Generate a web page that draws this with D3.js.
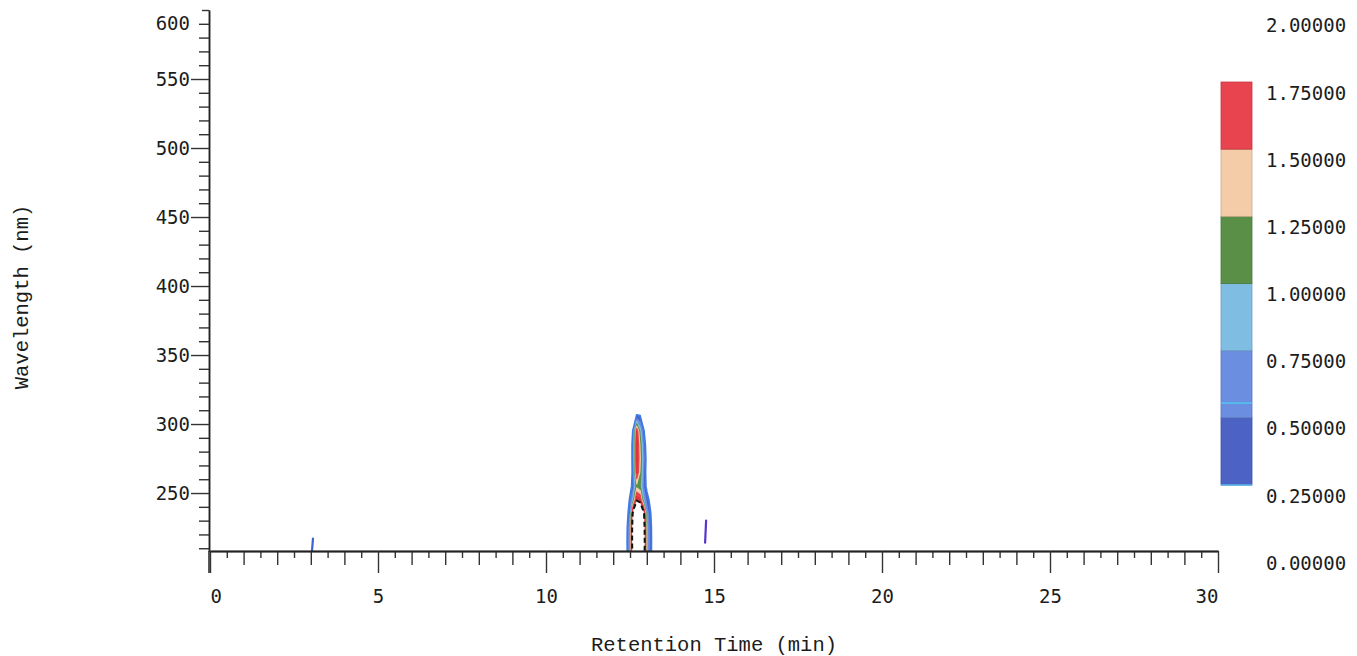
<!DOCTYPE html>
<html>
<head>
<meta charset="utf-8">
<script src="https://cdn.jsdelivr.net/npm/d3@7"></script>
<style>
	body { margin: 0; background: #fff; }
	svg { display: block; }
</style>
</head>
<body>
<div id="chartDiv"></div>
<script>
; (function () {

	var width = 1357;
	var height = 656;
	var plot = { left: 210, right: 1218, top: 10, bottom: 551 };

	var xDomain = [0, 30];
	var yDomain = [208, 600];
	var xMajorTicks = [0, 5, 10, 15, 20, 25, 30];
	var yMajorTicks = [250, 300, 350, 400, 450, 500, 550, 600];
	var xAxisLabelHeader = "Retention Time (min)";
	var yAxisLabelHeader = "Wavelength (nm)";

	// main peak, absorbance sampled on a small grid (rows = wavelength, bottom first)
	var peakTimes = [12.3, 12.4, 12.5, 12.6, 12.7, 12.8, 12.9, 13.0, 13.1, 13.2, 13.3];
	var peakWavelengths = [205, 215, 225, 235, 245, 255, 265, 275, 285, 295, 305, 315];
	var peakAbsorbance = [
		[0, 0.12, 0.70, 2.60, 3.20, 3.20, 2.60, 0.80, 0.38, 0, 0],
		[0, 0.15, 0.75, 2.70, 3.30, 3.30, 2.70, 0.85, 0.40, 0, 0],
		[0, 0.12, 0.72, 2.70, 3.30, 3.30, 2.60, 0.80, 0.38, 0, 0],
		[0, 0.05, 0.50, 2.40, 3.00, 2.90, 2.30, 0.70, 0.30, 0, 0],
		[0, 0, 0.30, 0.90, 1.95, 1.80, 0.80, 0.40, 0.15, 0, 0],
		[0, 0, 0.10, 0.40, 1.15, 1.00, 0.50, 0.15, 0, 0, 0],
		[0, 0, 0.05, 0.35, 1.80, 1.20, 0.50, 0.10, 0, 0, 0],
		[0, 0, 0, 0.40, 1.90, 1.30, 0.60, 0.10, 0, 0, 0],
		[0, 0, 0, 0.40, 1.90, 1.20, 0.50, 0.05, 0, 0, 0],
		[0, 0, 0, 0.30, 1.76, 0.90, 0.30, 0, 0, 0, 0],
		[0, 0, 0, 0, 0.30, 0.28, 0, 0, 0, 0, 0],
		[0, 0, 0, 0, 0, 0, 0, 0, 0, 0, 0]
	];

	// small features
	var minorTimes = [3.05, 14.75];
	var minorLow = [208, 214];
	var minorHigh = [217, 230];
	var minorColors = ["#3d62d6", "#5636cf"];

	var levels = [0.25, 0.5, 0.75, 1.0, 1.25, 1.5, 1.75, 2.0];
	var levelColors = ["#4b62c6", "#6a8de0", "#7fbde3", "#57904a", "#f4cca8", "#e8444f", "#e0343a", "#ffffff"];
	var barLevels = [0.25, 0.5, 0.75, 1.0, 1.25, 1.5];
	var barColors = ["#4c63c5", "#6b8ee0", "#80bde2", "#5a8f48", "#f5cca8", "#e8444f"];
	var barLabels = [0, 0.25, 0.5, 0.75, 1.0, 1.25, 1.5, 1.75, 2.0];
	var barStripes = [0.555];

	var chart, xScale, yScale;

	init();

	function init() {
		chart = d3.select("#chartDiv").append("svg")
			.attr("width", width)
			.attr("height", height);

		xScale = d3.scaleLinear().domain(xDomain).range([plot.left, plot.right]);
		yScale = d3.scaleLinear().domain(yDomain).range([plot.bottom, plot.top]);

		chart.append("clipPath").attr("id", "plotClip")
			.append("rect")
			.attr("x", plot.left).attr("y", plot.top)
			.attr("width", plot.right - plot.left).attr("height", plot.bottom - plot.top);

		drawContours();
		drawMinor();
		createAxes();
		drawColorBar();
	}

	function drawContours() {
		var nx = peakTimes.length, ny = peakWavelengths.length;
		var flat = [];
		peakAbsorbance.forEach(function (row) { row.forEach(function (v) { flat.push(v); }); });

		var contours = d3.contours().size([nx, ny]).thresholds(levels)(flat);

		var gridX = d3.scaleLinear().domain([0.5, nx - 0.5]).range([peakTimes[0], peakTimes[nx - 1]]);
		var gridY = d3.scaleLinear().domain([0.5, ny - 0.5]).range([peakWavelengths[0], peakWavelengths[ny - 1]]);
		var proj = d3.geoTransform({
			point: function (x, y) { this.stream.point(xScale(gridX(x)), yScale(gridY(y))); }
		});
		var path = d3.geoPath(proj);

		var g = chart.append("g").attr("clip-path", "url(#plotClip)");
		g.selectAll("path.band")
			.data(contours)
			.enter().append("path")
			.attr("class", "band")
			.attr("d", path)
			.attr("fill", function (d, i) { return levelColors[i]; })
			.attr("stroke", function (d, i) {
				if (d.value >= 2.0) return "#111";
				if (i == 0) return "#3f7be6";
				return levelColors[i];
			})
			.attr("stroke-width", function (d, i) { return i == 0 ? 1.8 : (d.value >= 2.0 ? 2 : 1.2); })
			.attr("stroke-dasharray", function (d) { return d.value >= 2.0 ? "5,3" : null; })
			.attr("stroke-linejoin", "round");
	}

	function drawMinor() {
		var g = chart.append("g").attr("clip-path", "url(#plotClip)");
		g.selectAll("line.minor")
			.data(minorTimes)
			.enter().append("line")
			.attr("class", "minor")
			.attr("x1", function (d) { return xScale(d) - 0.5; })
			.attr("x2", function (d) { return xScale(d) + 0.5; })
			.attr("y1", function (d, i) { return yScale(minorLow[i]); })
			.attr("y2", function (d, i) { return yScale(minorHigh[i]); })
			.attr("stroke", function (d, i) { return minorColors[i]; })
			.attr("stroke-width", 2.2)
			.attr("stroke-linecap", "round");
	}

	function styleAxis(sel) {
		sel.selectAll("path").attr("stroke", "#222").attr("stroke-width", 1.5);
		sel.selectAll("line").attr("stroke", "#333").attr("stroke-width", 1.4);
		sel.selectAll("text")
			.attr("fill", "#1c1c1c")
			.style("font-family", "'DejaVu Sans Mono', monospace")
			.style("font-size", "19px");
	}

	function createAxes() {
		var halfTicks = d3.range(0.5, 30, 1);
		var intTicks = d3.range(1, 30).filter(function (d) { return d % 5 != 0; });

		chart.append("g").attr("transform", "translate(0," + plot.bottom + ")")
			.call(d3.axisBottom(xScale).tickValues(halfTicks).tickSize(7).tickSizeOuter(0).tickFormat(""))
			.call(styleAxis);
		chart.append("g").attr("transform", "translate(0," + plot.bottom + ")")
			.call(d3.axisBottom(xScale).tickValues(intTicks).tickSize(14).tickSizeOuter(0).tickFormat(""))
			.call(styleAxis);
		var xMajor = chart.append("g").attr("transform", "translate(0," + plot.bottom + ")")
			.call(d3.axisBottom(xScale).tickValues(xMajorTicks).tickSize(22).tickSizeOuter(0).tickPadding(17))
			.call(styleAxis);
		xMajor.selectAll(".tick text")
			.attr("text-anchor", function (d) { return d == 0 ? "start" : (d == 30 ? "end" : "middle"); });

		var yTens = d3.range(210, 600, 10).filter(function (d) { return d % 50 != 0; });

		chart.append("g").attr("transform", "translate(" + (plot.left - 1) + ",0)")
			.call(d3.axisLeft(yScale).tickValues(yTens).tickSize(10).tickSizeOuter(0).tickFormat(""))
			.call(styleAxis);
		var yMajor = chart.append("g").attr("transform", "translate(" + (plot.left - 1) + ",0)")
			.call(d3.axisLeft(yScale).tickValues(yMajorTicks).tickSize(18).tickSizeOuter(0).tickPadding(1))
			.call(styleAxis);
		yMajor.selectAll(".tick").filter(function (d) { return d == 600; })
			.each(function () {
				d3.select(this).select("line").attr("x2", -7);
				d3.select(this).select("text").attr("y", 13);
			});

		// extend y axis line down to the tall x tick
		chart.append("line")
			.attr("x1", plot.left - 1).attr("x2", plot.left - 1)
			.attr("y1", plot.bottom).attr("y2", plot.bottom + 22)
			.attr("stroke", "#222").attr("stroke-width", 1.5);

		chart.append("text")
			.style("font-family", "'Liberation Mono', monospace")
			.style("font-size", "20.5px")
			.attr("fill", "#1c1c1c")
			.attr("text-anchor", "middle")
			.attr("transform", "translate(" + ((plot.left + plot.right) / 2) + "," + 651 + ")")
			.text(xAxisLabelHeader);

		chart.append("text")
			.style("font-family", "'Liberation Mono', monospace")
			.style("font-size", "20.5px")
			.attr("fill", "#1c1c1c")
			.attr("text-anchor", "middle")
			.attr("transform", "translate(" + 28 + "," + 297 + ") rotate(-90)")
			.text(yAxisLabelHeader);
	}

	function drawColorBar() {
		var barX = 1221, barW = 31;
		var cScale = d3.scaleLinear().domain([0.25, 1.75]).range([485, 82]);
		var step = 0.25;

		var bar = chart.append("g");
		bar.selectAll("rect")
			.data(barLevels)
			.enter().append("rect")
			.attr("x", barX)
			.attr("y", function (d) { return cScale(d + step); })
			.attr("width", barW)
			.attr("height", function (d) { return cScale(d) - cScale(d + step); })
			.attr("fill", function (d, i) { return barColors[i]; })
			.attr("stroke", function (d, i) { return d3.color(barColors[i]).darker(0.5); })
			.attr("stroke-width", 0.8);

		bar.selectAll("line.stripe")
			.data(barStripes)
			.enter().append("line")
			.attr("class", "stripe")
			.attr("x1", barX).attr("x2", barX + barW)
			.attr("y1", function (d) { return cScale(d); })
			.attr("y2", function (d) { return cScale(d); })
			.attr("stroke", "#4fc6ee").attr("stroke-width", 1.5);

		bar.append("line")
			.attr("x1", barX).attr("x2", barX + barW)
			.attr("y1", cScale(0.25)).attr("y2", cScale(0.25))
			.attr("stroke", "#58b8ea").attr("stroke-width", 1.5);

		var labels = chart.append("g")
			.attr("transform", "translate(" + (barX + barW) + ",11)")
			.call(d3.axisRight(cScale).tickValues(barLabels).tickSize(0).tickPadding(14).tickFormat(d3.format(".5f")));
		labels.select(".domain").remove();
		labels.selectAll("text")
			.attr("fill", "#1c1c1c")
			.style("font-family", "'DejaVu Sans Mono', monospace")
			.style("font-size", "19px");
	}

})();
</script>
</body>
</html>
